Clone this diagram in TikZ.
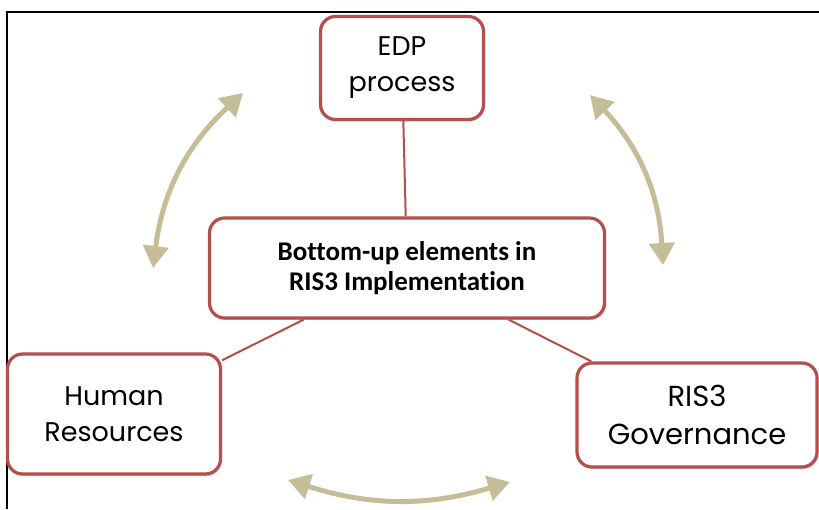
\documentclass[tikz,border=0pt]{standalone}
\usepackage{fontspec}
\setmainfont{Carlito}[Ligatures=NoCommon]
\newfontfamily\gothic{Poppins}
\usepackage{tikz}
\usetikzlibrary{arrows.meta,shadows}
\definecolor{boxred}{RGB}{181,78,76}
\definecolor{tanarrow}{RGB}{196,189,151}

\begin{document}
\begin{tikzpicture}[x=1pt,y=1pt,
    topic/.style={shape=rectangle,draw=boxred,line width=3.2pt,fill=white,rounded corners=15pt,
        align=center,font=\gothic\fontsize{27}{36}\selectfont,
        drop shadow={shadow xshift=1.5pt,shadow yshift=-2pt,opacity=0.35,fill=gray}},
    link/.style={draw=boxred,line width=2pt},
    cycle/.style={draw=tanarrow,line width=5pt,{Triangle[length=22pt,width=25pt]}-{Triangle[length=22pt,width=25pt]}}]
        \useasboundingbox (0,0) rectangle (819,509);
        \draw[line width=2pt] (7,0) -- (7,497) -- (819,497);

        \node[topic,minimum width=163pt,minimum height=103pt] (edp) at (402,441) {EDP\\process};
        \node[topic,minimum width=395pt,minimum height=100pt,font=\bfseries\fontsize{27}{30}\selectfont] (mid) at (407,241) {Bottom-up elements in\\RIS3 Implementation};
        \node[topic,minimum width=213pt,minimum height=120pt] (hr) at (114,95) {Human\\Resources};
        \node[topic,minimum width=240pt,minimum height=104pt,font=\gothic\fontsize{29}{38}\selectfont] (gov) at (697,94) {RIS3\\Governance};

        \coordinate (tl1) at (153,241);
        \coordinate (tl2) at (243,416);
        \coordinate (tr1) at (590,414);
        \coordinate (tr2) at (663,244);
        \coordinate (b1) at (288,29);
        \coordinate (b2) at (510,27);

        % links to the centre
	\path[link] (edp) -- (mid);
	\path[link] (hr) -- (mid);
	\path[link] (gov) -- (mid);

        % two-way arrows
	\draw[cycle] (tl1) to[bend left=20] (tl2);
	\draw[cycle] (tr1) to[bend left=20] (tr2);
	\draw[cycle] (b1) to[bend right=17] (b2);
\end{tikzpicture}
\end{document}
